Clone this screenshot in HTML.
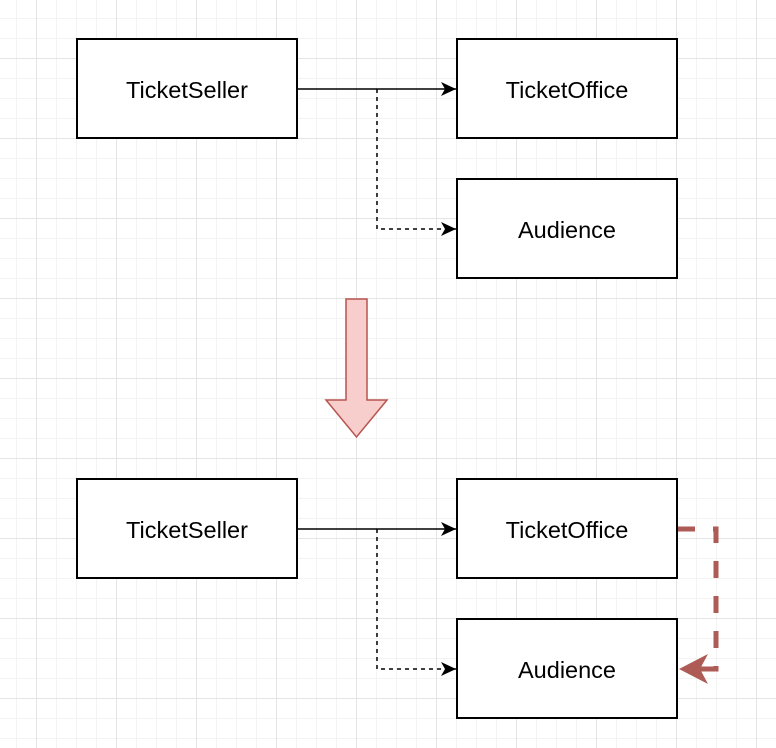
<!DOCTYPE html><html><head><style>
body{margin:0;width:776px;height:748px;overflow:hidden;background:#fff;
background-image:linear-gradient(#e4e4e4 1px,transparent 1px),linear-gradient(90deg,#e4e4e4 1px,transparent 1px),linear-gradient(#f3f3f3 1px,transparent 1px),linear-gradient(90deg,#f3f3f3 1px,transparent 1px);
background-size:80px 80px,80px 80px,20px 20px,20px 20px;
background-position:0 58px,36px 0,0 18px,16px 0;}
</style></head><body>
<svg width="776" height="748" style="position:absolute;left:0;top:0" font-family="Liberation Sans, sans-serif" font-size="23.5">
<defs><marker id="a" markerWidth="16" markerHeight="14" refX="15" refY="7" orient="auto" markerUnits="userSpaceOnUse"><path d="M0,0 L15,7 L0,14 L4,7z" fill="#000"/></marker></defs>
<g fill="#fff" stroke="#000" stroke-width="2">
<rect x="77" y="39" width="220" height="99"/><rect x="457" y="39" width="220" height="99"/><rect x="457" y="179" width="220" height="99"/>
<rect x="77" y="479" width="220" height="99"/><rect x="457" y="479" width="220" height="99"/><rect x="457" y="619" width="220" height="99"/>
</g>
<g text-anchor="middle" fill="#000">
<text x="187" y="98">TicketSeller</text><text x="567" y="98">TicketOffice</text><text x="567" y="238">Audience</text>
<text x="187" y="538">TicketSeller</text><text x="567" y="538">TicketOffice</text><text x="567" y="678">Audience</text>
</g>
<g stroke="#000" stroke-width="1.5" fill="none">
<line x1="297" y1="89" x2="456" y2="89" marker-end="url(#a)"/>
<path d="M377,89 V229 H456" stroke-dasharray="4,4" marker-end="url(#a)"/>
<line x1="297" y1="529" x2="456" y2="529" marker-end="url(#a)"/>
<path d="M377,529 V669 H456" stroke-dasharray="4,4" marker-end="url(#a)"/>
</g>
<path d="M346,299 H367 V400 H387 L356.5,437 L326,400 H346 Z" fill="#f8cecc" stroke="#b85450" stroke-width="1.5"/>
<path d="M678,529 H716 V669 H695" fill="none" stroke="#ae5a55" stroke-width="5" stroke-dasharray="17,18"/>
<path d="M679,669 L708,654 L700,669 L708,684 Z" fill="#ae5a55"/>
<line x1="695" y1="669" x2="717" y2="669" stroke="#ae5a55" stroke-width="5"/>
</svg>
</body></html>
